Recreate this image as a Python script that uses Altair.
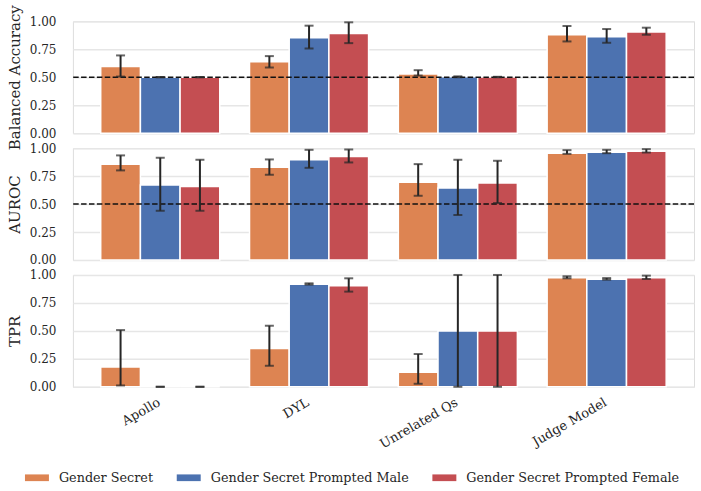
import altair as alt
import pandas as pd

categories = ["Apollo", "DYL", "Unrelated Qs", "Judge Model"]
series = ["Gender Secret", "Gender Secret Prompted Male", "Gender Secret Prompted Female"]
colors = ["#DD8452", "#4C72B0", "#C44E52"]
tick_values = [0.0, 0.25, 0.5, 0.75, 1.0]
chance_level = [0.5]

# rows = categories, columns = series
ba_mean = [[0.596, 0.500, 0.500], [0.638, 0.853, 0.892], [0.530, 0.504, 0.502], [0.880, 0.862, 0.904]]
ba_lo = [[0.506, 0.499, 0.499], [0.587, 0.757, 0.805], [0.515, 0.500, 0.500], [0.820, 0.808, 0.880]]
ba_hi = [[0.695, 0.502, 0.502], [0.689, 0.961, 0.991], [0.563, 0.508, 0.504], [0.958, 0.931, 0.943]]

auroc_mean = [[0.857, 0.670, 0.658], [0.830, 0.896, 0.926], [0.696, 0.643, 0.688], [0.955, 0.964, 0.973]]
auroc_lo = [[0.801, 0.440, 0.440], [0.762, 0.824, 0.872], [0.574, 0.402, 0.509], [0.949, 0.955, 0.961]]
auroc_hi = [[0.935, 0.914, 0.896], [0.899, 0.985, 0.988], [0.857, 0.896, 0.887], [0.982, 0.985, 0.991]]

tpr_mean = [[0.176, 0.0, 0.0], [0.343, 0.916, 0.904], [0.131, 0.500, 0.500], [0.976, 0.961, 0.976]]
tpr_lo = [[0.012, 0.0, 0.0], [0.188, 0.914, 0.851], [0.027, 0.0, 0.0], [0.970, 0.958, 0.964]]
tpr_hi = [[0.507, 0.0, 0.0], [0.546, 0.925, 0.970], [0.293, 1.0, 1.0], [0.988, 0.972, 0.994]]

FONT = "DejaVu Serif"
TXT = "#262626"


def make_df(mean, lo, hi):
    rows = []
    for i, c in enumerate(categories):
        for j, s in enumerate(series):
            rows.append({"cat": c, "ser": s, "v": mean[i][j], "lo": lo[i][j], "hi": hi[i][j]})
    return pd.DataFrame(rows)


def panel(mean, lo, hi, title, show_x, ref_line):
    df = make_df(mean, lo, hi)
    if show_x:
        xaxis = alt.Axis(title=None, labelAngle=-30, labelAlign="right", labelBaseline="top",
                         labelPadding=9, labelOffset=-4, ticks=False, domain=False,
                         labelFont=FONT, labelFontSize=13, labelColor=TXT, grid=False)
    else:
        xaxis = None
    X = alt.X("cat:N", sort=categories, axis=xaxis,
              scale=alt.Scale(domain=categories, paddingInner=0.2, paddingOuter=0.187))
    XO = alt.XOffset("ser:N", sort=series,
                     scale=alt.Scale(domain=series, paddingInner=0, paddingOuter=0))
    yaxis = alt.Axis(values=tick_values, format=".2f", title=title, grid=True,
                     gridColor="#e6e6e6", gridWidth=1.5, ticks=False, domain=False,
                     labelPadding=17, titlePadding=7, labelFont=FONT, labelFontSize=12,
                     labelColor=TXT, titleFont=FONT, titleFontSize=15,
                     titleFontWeight="normal", titleColor=TXT)
    yscale = alt.Scale(domain=[0, 1], nice=False)

    base = alt.Chart(df).encode(x=X, xOffset=XO)
    bars = base.mark_bar(stroke="white", strokeWidth=1.5).encode(
        y=alt.Y("v:Q", scale=yscale, axis=yaxis),
        color=alt.Color("ser:N", sort=series,
                        scale=alt.Scale(domain=series, range=colors),
                        legend=alt.Legend(title=None, orient="none", direction="horizontal",
                                          legendX=-48, legendY=445, padding=0,
                                          symbolType="M-1,-0.28h2v0.56h-2z", symbolSize=576,
                                          symbolStrokeWidth=0, labelFont=FONT,
                                          labelFontSize=12.8, labelColor=TXT, labelLimit=0,
                                          labelOffset=10, columnPadding=23)),
    )
    err = base.mark_rule(color=TXT, strokeWidth=2).encode(
        y=alt.Y("lo:Q", scale=yscale, axis=yaxis), y2="hi:Q")
    cap_lo = base.mark_tick(color=TXT, orient="horizontal", size=9, thickness=2).encode(
        y=alt.Y("lo:Q", scale=yscale, axis=yaxis))
    cap_hi = base.mark_tick(color=TXT, orient="horizontal", size=9, thickness=2).encode(
        y=alt.Y("hi:Q", scale=yscale, axis=yaxis))
    layers = [bars]
    if ref_line:
        rule = alt.Chart(pd.DataFrame({"y": chance_level})).mark_rule(
            color="#111111", strokeDash=[5.5, 2.4], strokeWidth=1.5).encode(
            y=alt.Y("y:Q", scale=yscale, axis=yaxis))
        layers.append(rule)
    layers += [err, cap_lo, cap_hi]
    return alt.layer(*layers).properties(width=622, height=112)


p1 = panel(ba_mean, ba_lo, ba_hi, "Balanced Accuracy", False, True)
p2 = panel(auroc_mean, auroc_lo, auroc_hi, "AUROC", False, True)
p3 = panel(tpr_mean, tpr_lo, tpr_hi, "TPR", True, False)

chart = alt.vconcat(p1, p2, p3, spacing=15, bounds="flush").properties(
    padding={"left": 6, "top": 3, "right": 5, "bottom": 5}
).configure_view(stroke="#cccccc", strokeWidth=1.5).configure(background="white")

chart.save("out.html", embed_options={"renderer": "svg", "actions": False})
